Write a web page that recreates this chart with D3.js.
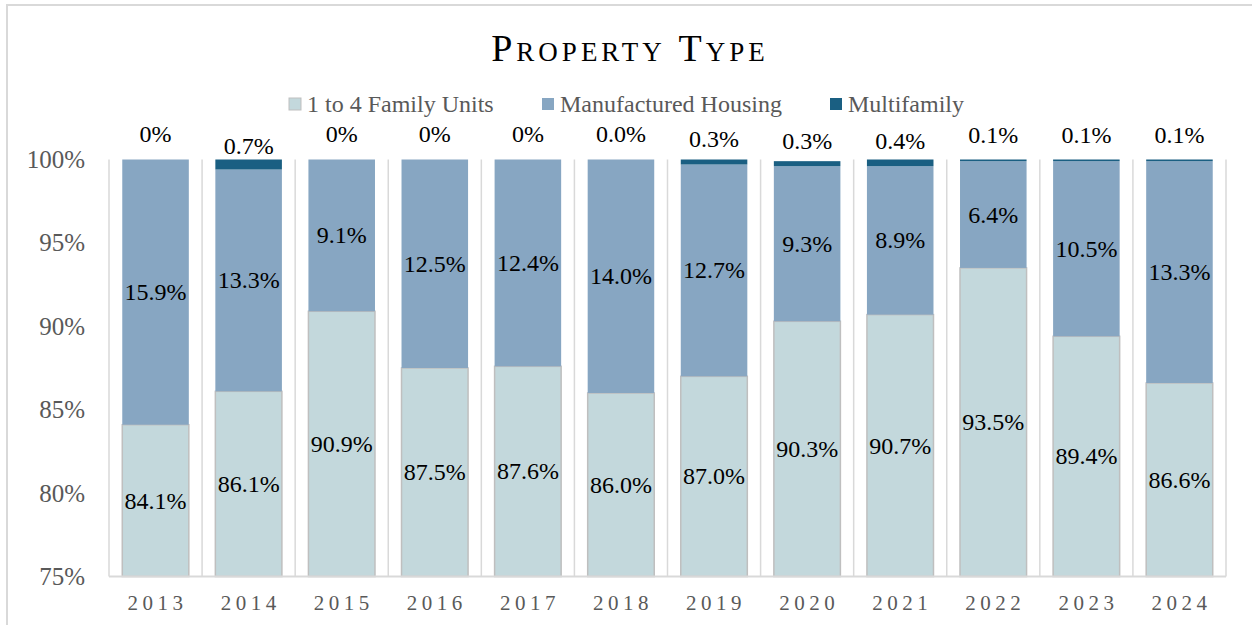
<!DOCTYPE html>
<html>
<head>
<meta charset="utf-8">
<script src="https://cdn.jsdelivr.net/npm/d3@7"></script>
<style>
  body { margin: 0; background: #fff; }
  text { font-family: "Liberation Serif", "Times New Roman", serif; }
</style>
</head>
<body>
<svg id="chart"></svg>
<script>
// stacked share of loans by property type
let years = ['2013', '2014', '2015', '2016', '2017', '2018', '2019', '2020', '2021', '2022', '2023', '2024']
let familyUnits = [84.1, 86.1, 90.9, 87.5, 87.6, 86.0, 87.0, 90.3, 90.7, 93.5, 89.4, 86.6]
let manufactured = [15.9, 13.3, 9.1, 12.5, 12.4, 14.0, 12.7, 9.3, 8.9, 6.4, 10.5, 13.3]
let multifamily = [0, 0.7, 0, 0, 0, 0.0, 0.3, 0.3, 0.4, 0.1, 0.1, 0.1]
let multiLabels = ['0%', '0.7%', '0%', '0%', '0%', '0.0%', '0.3%', '0.3%', '0.4%', '0.1%', '0.1%', '0.1%']
let yTicks = [75, 80, 85, 90, 95, 100]

let seriesNames = ['1 to 4 Family Units', 'Manufactured Housing', 'Multifamily']
let colors = ['#c3d8dc', '#87a6c2', '#1a5f82']

let width = 1252
let height = 625
let plotLeft = 109, plotRight = 1226, plotTop = 159.5, plotBottom = 576.5

let svg = d3.select('#chart')
            .attr('width', width)
            .attr('height', height)

// outer frame
svg.append('rect')
   .attr('x', 7).attr('y', 5)
   .attr('width', 1246).attr('height', 640)
   .attr('fill', 'none')
   .attr('stroke', '#d9d9d9')
   .attr('stroke-width', 2)

let xScale = d3.scaleBand()
               .domain(years)
               .range([plotLeft, plotRight])
               .paddingInner(0.285)
               .paddingOuter(0.1425)

let yScale = d3.scaleLinear()
               .domain([75, 100])
               .range([plotBottom, plotTop])

// vertical separators between categories
let step = xScale.step()
svg.append('g')
   .selectAll('line')
   .data(d3.range(years.length + 1))
   .enter()
   .append('line')
   .attr('x1', (i) => plotLeft + i * step)
   .attr('x2', (i) => plotLeft + i * step)
   .attr('y1', plotTop)
   .attr('y2', plotBottom)
   .attr('stroke', '#d9d9d9')
   .attr('stroke-width', 1.5)

// build rows for the stack
let rows = years.map((yr, i) => {
  return { year: yr, a: familyUnits[i], b: manufactured[i], c: multifamily[i], i: i }
})

let stack = d3.stack().keys(['a', 'b', 'c'])
let layers = stack(rows)

let clampY = (v) => yScale(Math.max(75, Math.min(100, v)))

layers.forEach((layer, k) => {
  svg.append('g')
     .selectAll('rect')
     .data(layer)
     .enter()
     .append('rect')
     .attr('x', (d) => xScale(d.data.year))
     .attr('width', xScale.bandwidth())
     .attr('y', (d) => clampY(d[1]))
     .attr('height', (d) => Math.max(0, clampY(d[0]) - clampY(d[1])))
     .attr('fill', colors[k])
     .attr('stroke', k == 0 ? '#bfbfbf' : 'none')
     .attr('stroke-width', k == 0 ? 1.5 : 0)
})

// axis line at bottom
svg.append('line')
   .attr('x1', plotLeft).attr('x2', plotRight)
   .attr('y1', plotBottom).attr('y2', plotBottom)
   .attr('stroke', '#d9d9d9')
   .attr('stroke-width', 2)

// y axis labels
let yAxis = d3.axisLeft(yScale)
              .tickValues(yTicks)
              .tickFormat((d) => d + '%')
              .tickSize(0)
              .tickPadding(24)

let gy = svg.append('g')
            .attr('transform', `translate(${plotLeft},0)`)
            .call(yAxis)
gy.select('.domain').remove()
gy.selectAll('text')
  .style('font-family', '"Liberation Serif", serif')
  .style('font-size', '25px')
  .attr('fill', '#595959')

// x axis labels
let xAxis = d3.axisBottom(xScale).tickSize(0).tickPadding(19)
let gx = svg.append('g')
            .attr('transform', `translate(0,${plotBottom})`)
            .call(xAxis)
gx.select('.domain').remove()
gx.selectAll('text')
  .style('font-family', '"Liberation Serif", serif')
  .style('font-size', '21px')
  .style('letter-spacing', '4.5px')
  .attr('dx', '2px')
  .attr('fill', '#595959')

// data labels
let labelGroup = svg.append('g')
                    .style('font-size', '24px')
                    .attr('text-anchor', 'middle')
                    .attr('fill', '#000')

labelGroup.selectAll('.lab-a')
  .data(layers[0])
  .enter()
  .append('text')
  .attr('x', (d) => xScale(d.data.year) + xScale.bandwidth() / 2)
  .attr('y', (d) => (clampY(d[0]) + clampY(d[1])) / 2 + 8)
  .text((d) => d.data.a.toFixed(1) + '%')

labelGroup.selectAll('.lab-b')
  .data(layers[1])
  .enter()
  .append('text')
  .attr('x', (d) => xScale(d.data.year) + xScale.bandwidth() / 2)
  .attr('y', (d) => (clampY(d[0]) + clampY(d[1])) / 2 + 8)
  .text((d) => d.data.b.toFixed(1) + '%')

labelGroup.selectAll('.lab-c')
  .data(layers[2])
  .enter()
  .append('text')
  .attr('x', (d) => xScale(d.data.year) + xScale.bandwidth() / 2)
  .attr('y', (d) => {
    let mid = (clampY(d[0]) + clampY(d[1])) / 2
    return mid - 18 + d.data.c * 10
  })
  .text((d) => multiLabels[d.data.i])

// title
svg.append('text')
   .attr('x', 630)
   .attr('y', 61)
   .attr('text-anchor', 'middle')
   .style('font-size', '38px')
   .style('font-variant', 'small-caps')
   .style('letter-spacing', '4px')
   .attr('fill', '#000')
   .text('Property Type')

// legend
let legendX = [289, 542, 830]
let legend = svg.append('g')
legend.selectAll('rect')
      .data(seriesNames)
      .enter()
      .append('rect')
      .attr('x', (d, i) => legendX[i])
      .attr('y', 98)
      .attr('width', 12)
      .attr('height', 12)
      .attr('fill', (d, i) => colors[i])
      .attr('stroke', (d, i) => i == 0 ? '#bfbfbf' : 'none')
legend.selectAll('text')
      .data(seriesNames)
      .enter()
      .append('text')
      .attr('x', (d, i) => legendX[i] + 18)
      .attr('y', 112)
      .style('font-size', '24px')
      .attr('fill', '#595959')
      .text((d) => d)
</script>
</body>
</html>
